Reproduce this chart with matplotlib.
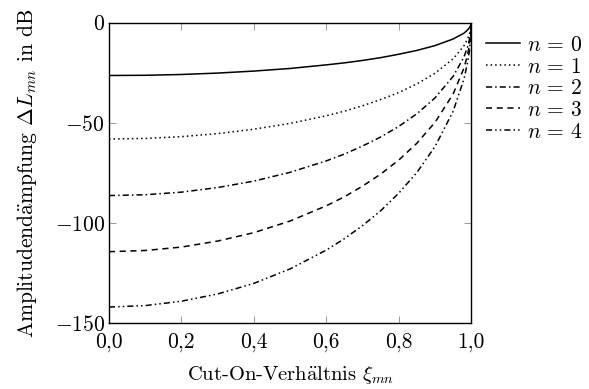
import matplotlib
matplotlib.use("Agg")
import matplotlib.pyplot as plt

plt.rcParams['font.family'] = ['cmr10', 'DejaVu Serif']
plt.rcParams['mathtext.fontset'] = 'cm'
plt.rcParams['axes.formatter.use_mathtext'] = True

# cut-on ratio xi_mn
xi = [0.0, 0.1, 0.2, 0.3, 0.4, 0.5, 0.6, 0.65, 0.7, 0.75, 0.8, 0.85, 0.9, 0.95, 0.98, 0.99, 0.995, 0.999, 1.0]

# amplitude damping Delta L_mn in dB, per radial order n
dL_n0 = [-26.4, -26.3, -25.9, -25.2, -24.2, -22.9, -21.1, -20.1, -18.9, -17.5, -15.8, -13.9, -11.5, -8.2, -5.3, -3.7, -2.6, -1.2, 0.0]
dL_n1 = [-58.1, -57.8, -56.9, -55.4, -53.2, -50.3, -46.5, -44.2, -41.5, -38.4, -34.9, -30.6, -25.3, -18.1, -11.6, -8.2, -5.8, -2.6, 0.0]
dL_n2 = [-86.3, -85.9, -84.6, -82.3, -79.1, -74.7, -69.0, -65.6, -61.6, -57.1, -51.8, -45.5, -37.6, -26.9, -17.2, -12.2, -8.6, -3.9, 0.0]
dL_n3 = [-114.3, -113.7, -112.0, -109.0, -104.8, -99.0, -91.4, -86.9, -81.6, -75.6, -68.6, -60.2, -49.8, -35.7, -22.7, -16.1, -11.4, -5.1, 0.0]
dL_n4 = [-141.9, -141.2, -139.0, -135.4, -130.1, -122.9, -113.5, -107.8, -101.3, -93.9, -85.1, -74.8, -61.9, -44.3, -28.2, -20.0, -14.2, -6.3, 0.0]

series = [dL_n0, dL_n1, dL_n2, dL_n3, dL_n4]
labels = ['$n\\,=\\,0$', '$n\\,=\\,1$', '$n\\,=\\,2$', '$n\\,=\\,3$', '$n\\,=\\,4$']
styles = ['-', (0, (1, 2)), (0, (4, 2, 1, 2)), (0, (4, 3)), (0, (4, 2, 1, 2, 1, 2))]

xticks = [0.0, 0.2, 0.4, 0.6, 0.8, 1.0]
xticklabels = ['0,0', '0,2', '0,4', '0,6', '0,8', '1,0']
yticks = [0, -50, -100, -150]
yticklabels = ['$0$', '$-50$', '$-100$', '$-150$']

fs = 15.5

fig = plt.figure(figsize=(5.89, 3.89), dpi=100)
ax = fig.add_axes([0.185, 0.169, 0.615, 0.773])

for vals, lab, ls in zip(series, labels, styles):
    ax.plot(xi, vals, color='black', linestyle=ls, linewidth=1.1, label=lab)

ax.set_xlim(0, 1)
ax.set_ylim(-150, 0)
ax.set_xticks(xticks)
ax.set_xticklabels(xticklabels)
ax.set_yticks(yticks)
ax.set_yticklabels(yticklabels)
ax.tick_params(direction='in', top=True, right=True, length=5, width=0.6,
               color='#888888', labelsize=fs, pad=3)
ax.tick_params(axis='x', pad=7)
for sp in ax.spines.values():
    sp.set_linewidth(1.0)

ax.set_xlabel(r'Cut-On-Verh$\ddot{\mathrm{a}}$ltnis $\xi_{mn}$', fontsize=14.8, labelpad=8)
ax.set_ylabel(r'Amplitudend$\ddot{\mathrm{a}}$mpfung $\Delta L_{mn}$ in dB', fontsize=fs, labelpad=11)

ax.legend(loc='upper left', bbox_to_anchor=(1.005, 1.0), frameon=False,
          fontsize=fs, handlelength=1.6, handletextpad=0.3, labelspacing=0.1,
          borderaxespad=0.2)

fig.savefig('out.png', dpi=100)
